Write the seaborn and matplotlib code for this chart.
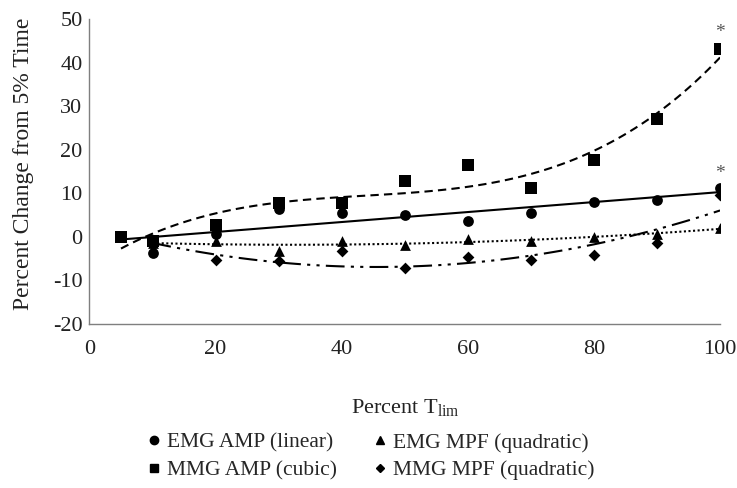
import numpy as np
import pandas as pd
import seaborn as sns
import matplotlib.pyplot as plt
from matplotlib.lines import Line2D

# values
pct_amp = [5, 10, 20, 30, 40, 50, 60, 70, 80, 90, 100]
pct_mpf = [10, 20, 30, 40, 50, 60, 70, 80, 90, 100]

emg_amp = [0.0, -3.8, 0.5, 6.3, 5.5, 5.0, 3.6, 5.3, 8.0, 8.3, 11.2]
mmg_amp = [0.0, -1.1, 2.7, 7.7, 7.8, 12.8, 16.5, 11.1, 17.6, 27.0, 43.0]
emg_mpf = [-1.5, -1.1, -3.4, -1.0, -1.9, -0.6, -1.1, 0.0, 0.5, 1.9]
mmg_mpf = [-2.0, -5.5, -5.7, -3.3, -7.3, -4.6, -5.5, -4.2, -1.4, 9.6]

labels = ["EMG AMP (linear)", "EMG MPF (quadratic)", "MMG AMP (cubic)", "MMG MPF (quadratic)"]
fit_order = [1, 2, 3, 2]
star_x = [100, 100]
star_y = [45.0, 12.5]

sns.set_theme(style="white")
plt.rcParams["font.family"] = ["Liberation Serif", "DejaVu Serif"]
plt.rcParams["mathtext.fontset"] = "custom"
plt.rcParams["mathtext.rm"] = "Liberation Serif"
plt.rcParams["mathtext.it"] = "Liberation Serif:italic"
plt.rcParams["axes.unicode_minus"] = False

series = [
    (pct_amp, emg_amp, "o", 60, dict(ls="-")),
    (pct_mpf, emg_mpf, "^", 60, dict(ls=(0, (1, 1.2)))),
    (pct_amp, mmg_amp, "s", 75, dict(ls=(0, (4, 2.5)))),
    (pct_mpf, mmg_mpf, "D", 36, dict(ls=(0, (9, 3, 1.5, 3, 1.5, 3)))),
]

fig = plt.figure(figsize=(7.37, 4.88), dpi=100)
ax = fig.add_axes([0.1214, 0.337, 0.8556, 0.624])

for (xs, ys, mk, size, lkw), order in zip(series, fit_order):
    df = pd.DataFrame({"x": xs, "y": ys})
    sns.regplot(data=df, x="x", y="y", order=order, ci=None, marker=mk,
                color="black", ax=ax, truncate=True,
                scatter_kws={"s": size, "linewidths": 0, "alpha": 1},
                line_kws={"lw": 1.5, "color": "black", **lkw})

for sx, sy in zip(star_x, star_y):
    ax.text(sx, sy, "*", ha="center", va="bottom", fontsize=14, color="#555555")

ax.set_xlim(0, 100)
ax.set_ylim(-20, 50)
ax.set_xticks([0, 20, 40, 60, 80, 100])
ax.set_yticks(range(-20, 51, 10))
ax.tick_params(axis="both", length=0, labelsize=16, colors="#222222")
ax.tick_params(axis="x", pad=12)
ax.tick_params(axis="y", pad=5)
for side in ["top", "right"]:
    ax.spines[side].set_visible(False)
for side in ["left", "bottom"]:
    ax.spines[side].set_color("#7f7f7f")
    ax.spines[side].set_linewidth(1.0)

ax.set_xlabel(r"Percent T$_{\mathrm{lim}}$", fontsize=16, color="#222222", labelpad=27)
ax.set_ylabel("Percent Change from 5% Time", fontsize=17, color="#222222", labelpad=6)
ax.yaxis.set_label_coords(-0.088, 0.525)

handles = [Line2D([], [], ls="none", marker=m, color="black", markersize=ms)
           for m, ms in zip(["o", "^", "s", "D"], [6, 6, 6, 4.5])]
order_idx = [0, 2, 1, 3]
fig.legend([handles[i] for i in order_idx], [labels[i] for i in order_idx],
           ncol=2, loc="center", bbox_to_anchor=(0.5, 0.065), frameon=False,
           fontsize=15.5, handletextpad=0.1, columnspacing=1.5, labelspacing=0.35,
           handlelength=1.0)

fig.savefig("out.png", dpi=100)
